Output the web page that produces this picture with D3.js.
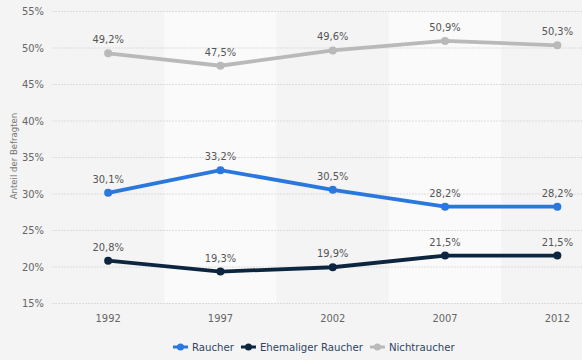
<!DOCTYPE html>
<html><head><meta charset="utf-8">
<script src="https://cdn.jsdelivr.net/npm/d3@7"></script>
<style>body{margin:0;background:#f4f4f4;}svg{display:block;font-family:"DejaVu Sans Condensed","DejaVu Sans",sans-serif;font-stretch:condensed;}</style>
</head><body>
<svg id="c" width="582" height="360"></svg>
<script>
const years = ["1992","1997","2002","2007","2012"];
const raucher = [30.1,33.2,30.5,28.2,28.2];
const ehemalig = [20.8,19.3,19.9,21.5,21.5];
const nicht = [49.2,47.5,49.6,50.9,50.3];
const seriesNames = ["Raucher","Ehemaliger Raucher","Nichtraucher"];
const yTicks = [15,20,25,30,35,40,45,50,55];
const colors = ["#2a77de","#0d2640","#b9b9b9"];
const series = [raucher, ehemalig, nicht];

const W=582,H=360;
const svg=d3.select("#c");
svg.append("rect").attr("width",W).attr("height",H).attr("fill","#f4f4f4");
const x=d3.scaleBand().domain(years).range([52,613.5]);
const y=d3.scaleLinear().domain([15,55]).range([303,11]);
const fmt=v=>String(v.toFixed(1)).replace(".",",")+"%";

svg.append("clipPath").attr("id","cl").append("rect").attr("x",52).attr("y",0).attr("width",W-52).attr("height",H);
const g=svg.append("g").attr("clip-path","url(#cl)");
g.selectAll("rect.band").data(years).enter().append("rect")
 .attr("x",d=>x(d)).attr("y",y(55)).attr("width",x.bandwidth()).attr("height",y(15)-y(55))
 .attr("fill",(d,i)=>i%2?"#fafafa":"#f4f4f4");
g.selectAll("line.grid").data(yTicks).enter().append("line")
 .attr("x1",52).attr("x2",W).attr("y1",d=>y(d)+0.5).attr("y2",d=>y(d)+0.5)
 .attr("stroke","#dcdcdc").attr("stroke-dasharray","2,1");

svg.selectAll("text.yt").data(yTicks).enter().append("text")
 .attr("x",44).attr("y",d=>y(d)+4).attr("text-anchor","end")
 .attr("font-size",11).attr("fill","#666").text(d=>d+"%");
svg.selectAll("text.xt").data(years).enter().append("text")
 .attr("x",d=>x(d)+x.bandwidth()/2).attr("y",322).attr("text-anchor","middle")
 .attr("font-size",11).attr("fill","#666").text(d=>d);
svg.append("text").attr("transform","translate(17,156) rotate(-90)").attr("text-anchor","middle")
 .attr("font-size",9.5).attr("fill","#777").text("Anteil der Befragten");

const line=d3.line().x((d,i)=>x(years[i])+x.bandwidth()/2).y(d=>y(d));
series.forEach((s,k)=>{
  svg.append("path").datum(s).attr("d",line).attr("fill","none").attr("stroke",colors[k]).attr("stroke-width",3.8);
  svg.selectAll(null).data(s).enter().append("circle")
   .attr("cx",(d,i)=>x(years[i])+x.bandwidth()/2).attr("cy",d=>y(d)).attr("r",4).attr("fill",colors[k]);
  svg.selectAll(null).data(s).enter().append("text")
   .attr("x",(d,i)=>x(years[i])+x.bandwidth()/2).attr("y",d=>y(d)-10).attr("text-anchor","middle")
   .attr("font-size",11).attr("fill","#555").text(d=>fmt(d));
});

// legend
const lg=svg.append("g").attr("transform","translate(173,347)");
let lx=0;
seriesNames.forEach((n,k)=>{
  const it=lg.append("g").attr("transform",`translate(${lx},0)`);
  it.append("line").attr("x1",0).attr("x2",15).attr("y1",0).attr("y2",0).attr("stroke",colors[k]).attr("stroke-width",3);
  it.append("circle").attr("cx",7.5).attr("cy",0).attr("r",3.5).attr("fill",colors[k]);
  const t=it.append("text").attr("x",19).attr("y",4).attr("font-size",11.3).attr("fill","#2e4663").text(n);
  lx+=19+t.node().getComputedTextLength()+7;
});
</script>
</body></html>
